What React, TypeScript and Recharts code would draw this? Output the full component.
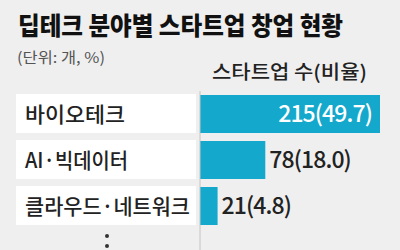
import React from 'react';
import { BarChart, Bar, XAxis, YAxis, LabelList } from 'recharts';

const categories = ['바이오테크', 'AI·빅데이터', '클라우드·네트워크', '⋮'];
const counts: (number | null)[] = [215, 78, 21, null];
const shares: (string | null)[] = ['49.7', '18.0', '4.8', null];

const title = '딥테크 분야별 스타트업 창업 현황';
const unitText = '(단위: 개, %)';
const seriesName = '스타트업 수(비율)';

const data = categories.map((name, i) => ({ name, count: counts[i], share: shares[i] }));

const FONT = '"Noto Sans CJK KR", "Noto Sans", sans-serif';
const BAR_COLOR = '#13a8cc';
const BG = '#efefef';

const labelWidths: Record<string, number> = {
  '바이오테크': 100,
  'AI·빅데이터': 103,
  '클라우드·네트워크': 165,
};

const CategoryTick = (props: any) => {
  const { y, payload } = props;
  const value: string = payload.value;
  if (value === '⋮') {
    return (
      <g>
        <circle cx={107} cy={y - 16} r={2} fill="#333" />
        <circle cx={107} cy={y - 6} r={2} fill="#333" />
      </g>
    );
  }
  return (
    <g>
      <rect x={16} y={y - 20} width={180} height={39} fill="#ffffff" />
      <text
        x={25}
        y={y + 8}
        fontSize={21}
        fontWeight={500}
        fontFamily={FONT}
        fill="#222"
        textLength={labelWidths[value]}
        lengthAdjust="spacingAndGlyphs"
      >
        {value}
      </text>
    </g>
  );
};

const ValueLabel = (props: any) => {
  const { x, y, width, height, index } = props;
  const c = counts[index];
  if (c == null) return null;
  const text = `${c}(${shares[index]})`;
  const inside = width > 120;
  return (
    <text
      x={inside ? x + width - 8 : x + width + 4}
      y={y + height / 2 + 8}
      textAnchor={inside ? 'end' : 'start'}
      fontSize={23}
      fontWeight={500}
      fontFamily={FONT}
      fill={inside ? '#ffffff' : '#222'}
      letterSpacing={-0.9}
    >
      {text}
    </text>
  );
};

export default function App() {
  return (
    <div
      style={{
        position: 'absolute',
        left: 0,
        top: 0,
        width: 400,
        height: 250,
        overflow: 'hidden',
        background: BG,
      }}
    >
      <BarChart
        width={400}
        height={275}
        data={data}
        layout="vertical"
        margin={{ top: 91, right: 20, bottom: 0, left: 0 }}
      >
        <XAxis type="number" domain={[0, 215]} hide />
        <YAxis
          type="category"
          dataKey="name"
          width={200}
          interval={0}
          tickLine={false}
          axisLine={{ stroke: '#c4c4c4', strokeWidth: 1 }}
          tick={<CategoryTick />}
        />
        <Bar dataKey="count" fill={BAR_COLOR} barSize={38} isAnimationActive={false}>
          <LabelList dataKey="count" content={<ValueLabel />} />
        </Bar>
      </BarChart>
      <svg
        width={400}
        height={250}
        style={{ position: 'absolute', left: 0, top: 0, pointerEvents: 'none' }}
      >
        <text
          x={18}
          y={35}
          fontSize={25}
          fontWeight={900}
          fontFamily={FONT}
          fill="#111"
          textLength={325}
          lengthAdjust="spacingAndGlyphs"
        >
          {title}
        </text>
        <text
          x={17}
          y={63}
          fontSize={15}
          fontFamily={FONT}
          fill="#555"
          textLength={88}
          lengthAdjust="spacingAndGlyphs"
        >
          {unitText}
        </text>
        <text
          x={212}
          y={79}
          fontSize={19}
          fontWeight={500}
          fontFamily={FONT}
          fill="#222"
          textLength={155}
          lengthAdjust="spacingAndGlyphs"
        >
          {seriesName}
        </text>
      </svg>
    </div>
  );
}
